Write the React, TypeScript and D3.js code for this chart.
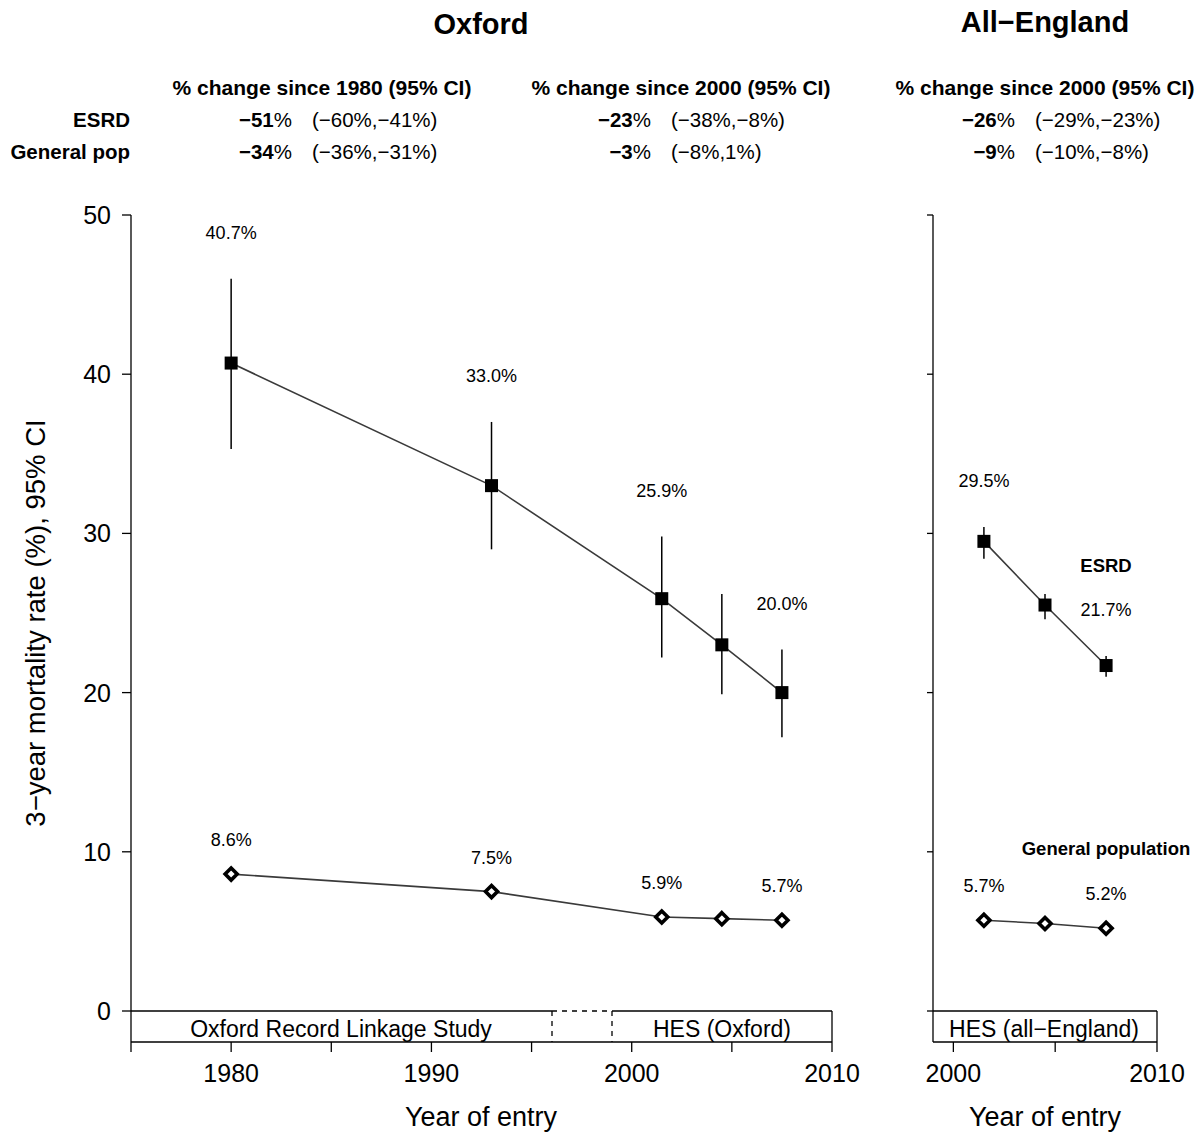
import React from "react";
import * as d3 from "d3";

const oxfordYears = [1980, 1993, 2001.5, 2004.5, 2007.5];
const oxfordEsrd = [40.7, 33.0, 25.9, 23.0, 20.0];
const oxfordEsrdLo = [35.3, 29.0, 22.2, 19.9, 17.2];
const oxfordEsrdHi = [46.0, 37.0, 29.8, 26.2, 22.7];
const oxfordGen = [8.6, 7.5, 5.9, 5.8, 5.7];
const oxfordLabeled = [true, true, true, false, true];

const englandYears = [2001.5, 2004.5, 2007.5];
const englandEsrd = [29.5, 25.5, 21.7];
const englandEsrdLo = [28.4, 24.6, 21.0];
const englandEsrdHi = [30.4, 26.2, 22.3];
const englandGen = [5.7, 5.5, 5.2];
const englandLabeled = [true, false, true];

const yTicks = [0, 10, 20, 30, 40, 50];
const oxfordXTicks = [1975, 1980, 1985, 1990, 1995, 2000, 2005, 2010];
const oxfordXLabels = [1980, 1990, 2000, 2010];
const englandXTicks = [2000, 2005, 2010];
const englandXLabels = [2000, 2010];

const rowNames = ["ESRD", "General pop"];
const headers = ["% change since 1980 (95% CI)", "% change since 2000 (95% CI)", "% change since 2000 (95% CI)"];
const changeEst = [["−51", "−34"], ["−23", "−3"], ["−26", "−9"]];
const changeCI = [["(−60%,−41%)", "(−36%,−31%)"], ["(−38%,−8%)", "(−8%,1%)"], ["(−29%,−23%)", "(−10%,−8%)"]];

const FONT = "'Liberation Sans', Arial, Helvetica, sans-serif";

export default function App() {
  const W = 1201, H = 1133;
  const y = d3.scaleLinear().domain([0, 50]).range([1011, 215]);
  const xL = d3.scaleLinear().domain([1975, 2010]).range([131, 832]);
  const xR = d3.scaleLinear().domain([1999, 2010]).range([933, 1157]);
  const boxTop = y(0);
  const axisY = 1042;
  const line = (xs: any, years: number[], vals: number[]) =>
    d3.line<number>().x((d, i) => xs(years[i])).y((d) => y(d))(vals) || "";

  const diamond = (cx: number, cy: number, r: number) =>
    `M${cx},${cy - r}L${cx + r},${cy}L${cx},${cy + r}L${cx - r},${cy}Z`;

  const panel = (xs: any, years: number[], esrd: number[], lo: number[], hi: number[], gen: number[], labeled: boolean[], key: string) => (
    <g key={key}>
      <path d={line(xs, years, esrd)} fill="none" stroke="#3a3a3a" strokeWidth={1.6} />
      <path d={line(xs, years, gen)} fill="none" stroke="#3a3a3a" strokeWidth={1.6} />
      {years.map((yr, i) => (
        <line key={"e" + i} x1={xs(yr)} x2={xs(yr)} y1={y(lo[i])} y2={y(hi[i])} stroke="#000" strokeWidth={1.5} />
      ))}
      {years.map((yr, i) => (
        <rect key={"s" + i} x={xs(yr) - 6.5} y={y(esrd[i]) - 6.5} width={13} height={13} fill="#000" />
      ))}
      {years.map((yr, i) => (
        <path key={"d" + i} d={diamond(xs(yr), y(gen[i]), 6)} fill="#fff" stroke="#000" strokeWidth={3.6} />
      ))}
      {years.map((yr, i) =>
        labeled[i] ? (
          <text key={"le" + i} x={xs(yr)} y={y(hi[i]) - 46} textAnchor="middle" dominantBaseline="central" fontSize={18}>
            {esrd[i].toFixed(1) + "%"}
          </text>
        ) : null
      )}
      {years.map((yr, i) =>
        labeled[i] ? (
          <text key={"lg" + i} x={xs(yr)} y={y(gen[i]) - 34} textAnchor="middle" dominantBaseline="central" fontSize={18}>
            {gen[i].toFixed(1) + "%"}
          </text>
        ) : null
      )}
    </g>
  );

  const colCenters = [322, 681, 1045];
  const rowY = [119, 151];

  return (
    <svg width={W} height={H} style={{ position: "absolute", left: 0, top: 0, background: "#fff" }} fontFamily={FONT}>
      <rect x={0} y={0} width={W} height={H} fill="#fff" />
      {/* titles */}
      <text x={481} y={24} textAnchor="middle" dominantBaseline="central" fontSize={29} fontWeight="bold">Oxford</text>
      <text x={1045} y={22} textAnchor="middle" dominantBaseline="central" fontSize={29} fontWeight="bold">All−England</text>

      {/* header table */}
      {headers.map((h, c) => (
        <text key={"h" + c} x={colCenters[c]} y={87} textAnchor="middle" dominantBaseline="central" fontSize={21} fontWeight="bold">{h}</text>
      ))}
      {rowNames.map((r, ri) => (
        <text key={"r" + ri} x={130} y={rowY[ri]} textAnchor="end" dominantBaseline="central" fontSize={20.5} fontWeight="bold">{r}</text>
      ))}
      {changeEst.map((col, c) =>
        col.map((v, ri) => (
          <g key={"c" + c + ri}>
            <text x={colCenters[c] - 30} y={rowY[ri]} textAnchor="end" dominantBaseline="central" fontSize={20.5}>
              <tspan fontWeight="bold">{v}</tspan>%
            </text>
            <text x={colCenters[c] - 10} y={rowY[ri]} textAnchor="start" dominantBaseline="central" fontSize={20.5}>
              {changeCI[c][ri]}
            </text>
          </g>
        ))
      )}

      {/* left y axis */}
      <line x1={131} x2={131} y1={y(50)} y2={axisY} stroke="#000" strokeWidth={1.3} />
      {yTicks.map((t) => (
        <g key={"yt" + t}>
          <line x1={122} x2={131} y1={y(t)} y2={y(t)} stroke="#000" strokeWidth={1.3} />
          <text x={111} y={y(t)} textAnchor="end" dominantBaseline="central" fontSize={25}>{t}</text>
        </g>
      ))}
      <text transform={`translate(35,${(y(0) + y(50)) / 2 + 10}) rotate(-90)`} textAnchor="middle" dominantBaseline="central" fontSize={27.5}>
        3−year mortality rate (%), 95% CI
      </text>

      {/* left box */}
      <line x1={131} x2={552} y1={boxTop} y2={boxTop} stroke="#000" strokeWidth={1.3} />
      <line x1={552} x2={612} y1={boxTop} y2={boxTop} stroke="#000" strokeWidth={1.3} strokeDasharray="5,5" />
      <line x1={612} x2={832} y1={boxTop} y2={boxTop} stroke="#000" strokeWidth={1.3} />
      <line x1={552} x2={552} y1={boxTop} y2={axisY} stroke="#000" strokeWidth={1.3} strokeDasharray="5,5" />
      <line x1={612} x2={612} y1={boxTop} y2={axisY} stroke="#000" strokeWidth={1.3} strokeDasharray="5,5" />
      <line x1={832} x2={832} y1={boxTop} y2={axisY} stroke="#000" strokeWidth={1.3} />
      <text x={341} y={1029} textAnchor="middle" dominantBaseline="central" fontSize={23}>Oxford Record Linkage Study</text>
      <text x={722} y={1029} textAnchor="middle" dominantBaseline="central" fontSize={23}>HES (Oxford)</text>

      {/* left x axis */}
      <line x1={xL(1975)} x2={xL(2010)} y1={axisY} y2={axisY} stroke="#000" strokeWidth={1.3} />
      {oxfordXTicks.map((t) => (
        <line key={"xt" + t} x1={xL(t)} x2={xL(t)} y1={axisY} y2={axisY + 10} stroke="#000" strokeWidth={1.3} />
      ))}
      {oxfordXLabels.map((t) => (
        <text key={"xl" + t} x={xL(t)} y={1073} textAnchor="middle" dominantBaseline="central" fontSize={25}>{t}</text>
      ))}
      <text x={481} y={1117} textAnchor="middle" dominantBaseline="central" fontSize={27}>Year of entry</text>

      {/* right y axis */}
      <line x1={933} x2={933} y1={y(50)} y2={axisY} stroke="#000" strokeWidth={1.3} />
      {yTicks.map((t) => (
        <line key={"ryt" + t} x1={927} x2={933} y1={y(t)} y2={y(t)} stroke="#000" strokeWidth={1.3} />
      ))}
      {/* right box */}
      <line x1={933} x2={xR(2010)} y1={boxTop} y2={boxTop} stroke="#000" strokeWidth={1.3} />
      <line x1={xR(2010)} x2={xR(2010)} y1={boxTop} y2={axisY} stroke="#000" strokeWidth={1.3} />
      <text x={1044} y={1029} textAnchor="middle" dominantBaseline="central" fontSize={23}>HES (all−England)</text>
      <line x1={933} x2={xR(2010)} y1={axisY} y2={axisY} stroke="#000" strokeWidth={1.3} />
      {englandXTicks.map((t) => (
        <line key={"rxt" + t} x1={xR(t)} x2={xR(t)} y1={axisY} y2={axisY + 10} stroke="#000" strokeWidth={1.3} />
      ))}
      {englandXLabels.map((t) => (
        <text key={"rxl" + t} x={xR(t)} y={1073} textAnchor="middle" dominantBaseline="central" fontSize={25}>{t}</text>
      ))}
      <text x={1045} y={1117} textAnchor="middle" dominantBaseline="central" fontSize={27}>Year of entry</text>

      {panel(xL, oxfordYears, oxfordEsrd, oxfordEsrdLo, oxfordEsrdHi, oxfordGen, oxfordLabeled, "ox")}
      {panel(xR, englandYears, englandEsrd, englandEsrdLo, englandEsrdHi, englandGen, englandLabeled, "en")}

      <text x={1106} y={565} textAnchor="middle" dominantBaseline="central" fontSize={18.5} fontWeight="bold">ESRD</text>
      <text x={1106} y={848} textAnchor="middle" dominantBaseline="central" fontSize={18.5} fontWeight="bold">General population</text>
    </svg>
  );
}
